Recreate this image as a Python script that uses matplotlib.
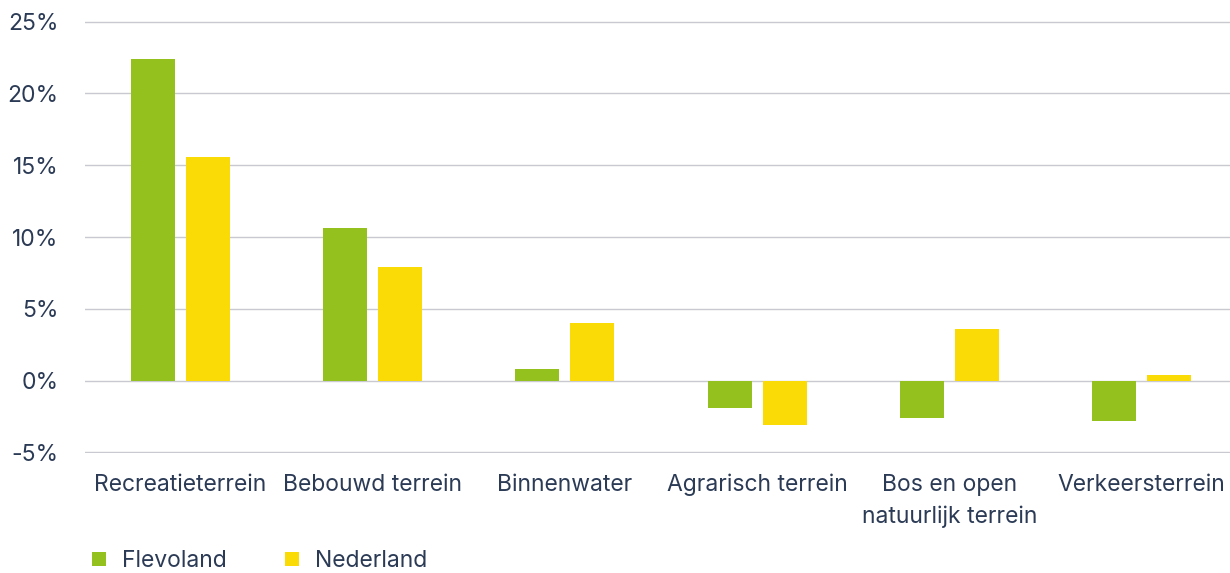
import matplotlib.pyplot as plt
import numpy as np

plt.rcParams['font.family'] = ['Inter', 'DejaVu Sans']

# gebiedscategorieën en groei van oppervlakte (%)
categories = ['Recreatieterrein', 'Bebouwd terrein', 'Binnenwater', 'Agrarisch terrein',
              'Bos en open\nnatuurlijk terrein', 'Verkeersterrein']
flevoland = [22.4, 10.6, 0.8, -1.9, -2.6, -2.85]
nederland = [15.6, 7.9, 4.0, -3.1, 3.6, 0.4]
yticks = [-5, 0, 5, 10, 15, 20, 25]

text_color = '#2b3a55'
green = '#95c11f'
yellow = '#fbdb05'

fig = plt.figure(figsize=(12.3, 5.73), dpi=100)
ax = fig.add_axes([85 / 1230, 120 / 573, 1145 / 1230, 432 / 573])

x = np.arange(len(categories))
bar_width = 0.229
offset = 0.143
ax.bar(x - offset, flevoland, bar_width, color=green, label='Flevoland', zorder=3)
ax.bar(x + offset, nederland, bar_width, color=yellow, label='Nederland', zorder=3)

ax.set_xlim(-0.497, 5.46)
ax.set_ylim(-5.05, 25.05)
ax.set_yticks(yticks)
ax.set_yticklabels([f'{t}%' for t in yticks])
ax.set_xticks(x)
ax.set_xticklabels(categories, linespacing=1.55)

ax.grid(axis='y', color='#c9c9d1', linewidth=1, zorder=0)
for s in ax.spines.values():
    s.set_visible(False)
ax.tick_params(axis='both', length=0, labelsize=16.5, colors=text_color)
ax.tick_params(axis='y', pad=19)
ax.tick_params(axis='x', pad=15)

leg = fig.legend(loc='lower left', bbox_to_anchor=(0.058, -0.034), ncol=2, frameon=False,
                 fontsize=16.5, handlelength=0.6, handleheight=0.6, handletextpad=0.7,
                 columnspacing=2.55, labelcolor=text_color)

fig.savefig('out.png', dpi=100)
